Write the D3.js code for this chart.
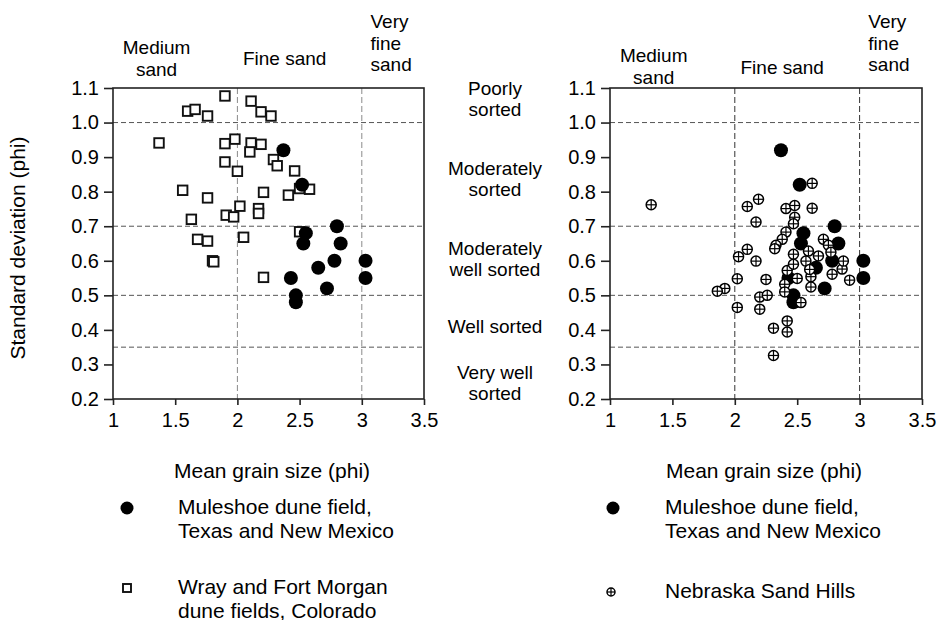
<!DOCTYPE html>
<html>
<head>
<meta charset="utf-8">
<script src="https://cdn.jsdelivr.net/npm/d3@7"></script>
<style>
  html, body { margin: 0; padding: 0; background: #fff; }
  svg { display: block; font-family: "Liberation Sans", Arial, Helvetica, sans-serif; }
</style>
</head>
<body>
<svg id="chart" width="938" height="620"></svg>
<script>
// ---------------- data ----------------
const muleshoe = [
  [2.37,0.92],[2.52,0.82],[2.80,0.70],[2.55,0.68],[2.53,0.65],[2.83,0.65],[2.78,0.60],
  [2.65,0.58],[3.03,0.60],[3.03,0.55],[2.43,0.55],[2.72,0.52],[2.47,0.50],[2.47,0.48]
];
const wrayFortMorgan = [
  [1.90,1.077],[1.60,1.033],[1.66,1.038],[1.76,1.019],[1.37,0.941],[1.90,0.939],[1.98,0.952],
  [2.11,0.941],[2.10,0.915],[2.19,0.937],[1.90,0.886],[2.00,0.859],[1.56,0.804],[1.76,0.782],
  [2.21,0.798],[2.02,0.758],[2.17,0.751],[2.17,0.737],[1.91,0.732],[1.97,0.727],[1.63,0.720],
  [1.68,0.662],[1.76,0.657],[2.05,0.668],[1.80,0.600],[1.81,0.597],[2.21,0.552],[2.11,1.062],
  [2.19,1.031],[2.27,1.019],[2.29,0.893],[2.32,0.875],[2.46,0.860],[2.50,0.809],[2.58,0.807],
  [2.41,0.790],[2.50,0.684]
];
const nebraska = [
  [1.33,0.762],[2.10,0.757],[2.19,0.778],[2.17,0.712],[2.10,0.633],[2.03,0.612],[2.17,0.599],
  [2.02,0.548],[2.25,0.546],[1.92,0.520],[1.86,0.512],[2.20,0.495],[2.26,0.500],[2.02,0.465],
  [2.20,0.460],[2.31,0.405],[2.31,0.326],[2.42,0.426],[2.42,0.394],[2.78,0.561],[2.86,0.576],
  [2.92,0.544],[2.61,0.554],[2.61,0.524],[2.50,0.549],[2.42,0.572],[2.40,0.532],[2.40,0.510],
  [2.53,0.479],[2.62,0.824],[2.41,0.751],[2.48,0.760],[2.62,0.752],[2.48,0.726],[2.47,0.707],
  [2.41,0.683],[2.38,0.662],[2.33,0.645],[2.32,0.635],[2.71,0.662],[2.75,0.645],[2.59,0.628],
  [2.47,0.619],[2.67,0.614],[2.77,0.625],[2.47,0.590],[2.57,0.599],[2.87,0.599],[2.60,0.575]
];
const xTicks = [1, 1.5, 2, 2.5, 3, 3.5];
const yTicks = [0.2, 0.3, 0.4, 0.5, 0.6, 0.7, 0.8, 0.9, 1.0, 1.1];
const sizeBoundaries = [2, 3];
const sortingBoundaries = [1.0, 0.7, 0.5, 0.35];
const sizeClasses = [
  {lines: ["Medium", "sand"], x: 1.35, anchor: "middle"},
  {lines: ["Fine sand"], x: 2.38, anchor: "middle"},
  {lines: ["Very", "fine", "sand"], x: 3.07, anchor: "start"}
];
const sortingClasses = [
  {lines: ["Poorly", "sorted"], y: 1.05},
  {lines: ["Moderately", "sorted"], y: 0.85},
  {lines: ["Moderately", "well sorted"], y: 0.62},
  {lines: ["Well sorted"], y: 0.43},
  {lines: ["Very well", "sorted"], y: 0.29}
];

// ---------------- drawing ----------------
const svg = d3.select("#chart");
const y = d3.scaleLinear().domain([0.2, 1.1]).range([399, 88]);
const panels = [
  {x: d3.scaleLinear().domain([1, 3.5]).range([113, 424]), vcolor: "#8a8a8a", topY: [0, 0], legendX: 127, textX: 178, titleX: 272,
   legend: [{type: "circle", lines: ["Muleshoe dune field,", "Texas and New Mexico"], y: 508},
            {type: "square", lines: ["Wray and Fort Morgan", "dune fields, Colorado"], y: 588}]},
  {x: d3.scaleLinear().domain([1, 3.5]).range([610, 922]), vcolor: "#333", topY: [8, 9], legendX: 613, textX: 665, titleX: 764,
   legend: [{type: "circle", lines: ["Muleshoe dune field,", "Texas and New Mexico"], y: 508},
            {type: "cross", lines: ["Nebraska Sand Hills"], y: 592}]}
];

function drawSquare(g, cx, cy, s) {
  g.append("rect").attr("x", cx - s/2).attr("y", cy - s/2).attr("width", s).attr("height", s)
    .attr("fill", "#fff").attr("stroke", "#111").attr("stroke-width", 1.9);
}
function drawCircle(g, cx, cy, r) {
  g.append("circle").attr("cx", cx).attr("cy", cy).attr("r", r).attr("fill", "#000");
}
function drawCross(g, cx, cy, r) {
  g.append("circle").attr("cx", cx).attr("cy", cy).attr("r", r).attr("fill", "#fff")
    .attr("stroke", "#000").attr("stroke-width", 1.5);
  g.append("line").attr("x1", cx - r).attr("x2", cx + r).attr("y1", cy).attr("y2", cy)
    .attr("stroke", "#000").attr("stroke-width", 1.2);
  g.append("line").attr("x1", cx).attr("x2", cx).attr("y1", cy - r).attr("y2", cy + r)
    .attr("stroke", "#000").attr("stroke-width", 1.2);
}

panels.forEach((p, i) => {
  const x = p.x;
  const [x0, x1] = x.range();
  const g = svg.append("g");

  // gridlines
  sortingBoundaries.forEach(v => {
    g.append("line").attr("x1", x0).attr("x2", x1).attr("y1", y(v)).attr("y2", y(v))
      .attr("stroke", "#555").attr("stroke-width", 1).attr("stroke-dasharray", "5,3");
  });
  sizeBoundaries.forEach(v => {
    g.append("line").attr("x1", x(v)).attr("x2", x(v)).attr("y1", y(1.1)).attr("y2", y(0.2))
      .attr("stroke", p.vcolor).attr("stroke-width", 1).attr("stroke-dasharray", "6,3");
  });

  // data
  const marks = svg.append("g");
  if (i === 0) {
    wrayFortMorgan.forEach(d => drawSquare(marks, x(d[0]), y(d[1]), 9.5));
    muleshoe.forEach(d => drawCircle(marks, x(d[0]), y(d[1]), 7));
  } else {
    muleshoe.forEach(d => drawCircle(marks, x(d[0]), y(d[1]), 7));
    nebraska.forEach(d => drawCross(marks, x(d[0]), y(d[1]), 5));
  }

  // frame
  svg.append("rect").attr("x", x0).attr("y", y(1.1)).attr("width", x1 - x0).attr("height", y(0.2) - y(1.1))
    .attr("fill", "none").attr("stroke", "#222").attr("stroke-width", 1.6);

  // axes
  const xa = svg.append("g").attr("transform", `translate(0,${y(0.2)})`)
    .call(d3.axisBottom(x).tickValues(xTicks).tickSize(6).tickPadding(8).tickFormat(d3.format("")));
  const ya = svg.append("g").attr("transform", `translate(${x0},0)`)
    .call(d3.axisLeft(y).tickValues(yTicks).tickSize(9).tickPadding(5).tickFormat(d3.format(".1f")));
  [xa, ya].forEach(a => {
    a.select(".domain").remove();
    a.selectAll(".tick line").attr("stroke", "#222").attr("stroke-width", 1.6);
    a.selectAll(".tick text").attr("font-size", 20).attr("fill", "#000")
      .attr("font-family", "'Liberation Sans', Arial, sans-serif");
  });

  // size class labels
  sizeClasses.forEach((c, k) => {
    const t = svg.append("text").attr("font-size", 19).attr("text-anchor", c.anchor).attr("fill", "#000");
    let base;
    if (k === 0) base = 54 + p.topY[0];
    else if (k === 1) base = 65 + p.topY[1];
    else base = 28;
    c.lines.forEach((ln, j) => {
      t.append("tspan").attr("x", x(c.x)).attr("y", base + j * 21.5).text(ln);
    });
  });

  // x title
  svg.append("text").attr("x", p.titleX).attr("y", 478)
    .attr("text-anchor", "middle").attr("font-size", 21).text("Mean grain size (phi)");

  // legend
  p.legend.forEach(L => {
    if (L.type === "circle") drawCircle(svg, p.legendX, L.y, 6.5);
    else if (L.type === "square") drawSquare(svg, p.legendX, L.y, 8);
    else drawCross(svg, p.legendX - 2, L.y, 4);
    const t = svg.append("text").attr("font-size", 21).attr("fill", "#000");
    L.lines.forEach((ln, j) => {
      t.append("tspan").attr("x", p.textX).attr("y", L.y + 6 + j * 23.5).text(ln);
    });
  });
});

// sorting class labels (between the panels)
const sortBase = [95, 175, 255, 333, 379];
sortingClasses.forEach((c, k) => {
  const t = svg.append("text").attr("font-size", 19).attr("text-anchor", "middle").attr("fill", "#000");
  c.lines.forEach((ln, j) => {
    t.append("tspan").attr("x", 495).attr("y", sortBase[k] + j * 21).text(ln);
  });
});

// y title
svg.append("text").attr("transform", "translate(25,248) rotate(-90)")
  .attr("text-anchor", "middle").attr("font-size", 21).text("Standard deviation (phi)");
</script>
</body>
</html>
